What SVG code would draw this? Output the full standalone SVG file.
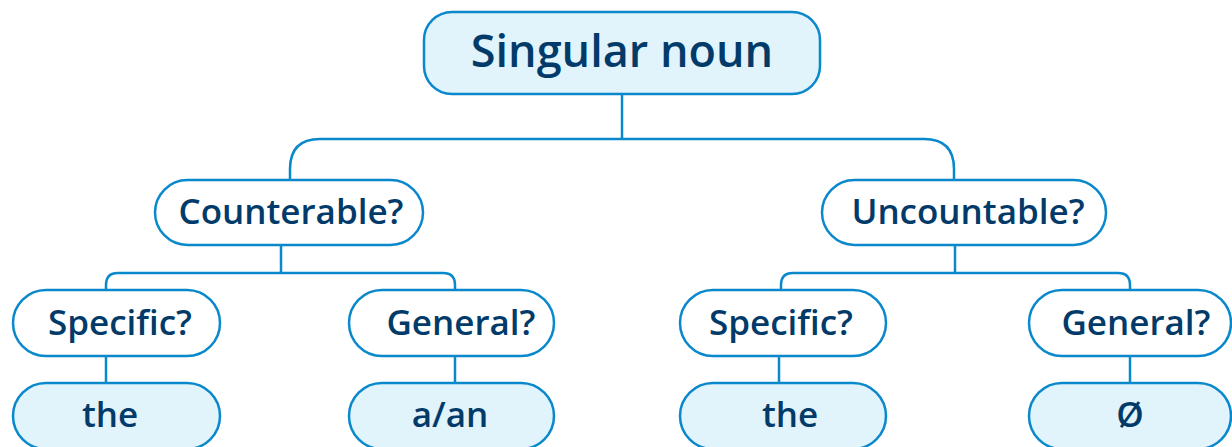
<svg xmlns="http://www.w3.org/2000/svg" width="1232" height="447" viewBox="0 0 1232 447">
<style>
.box{stroke:#0a88cc;stroke-width:2.5}
.q{fill:#ffffff}
.a{fill:#e1f3fb}
.t{font-family:"Open Sans","Noto Sans",sans-serif;font-weight:600;fill:#023b69;text-anchor:middle;font-size:35px}
.c{fill:none;stroke:#0a88cc;stroke-width:2.5}
</style>
<rect width="1232" height="447" fill="#ffffff"/>
<g id="connectors">
<path class="c" d="M622,94 V139"/>
<path class="c" d="M290,180 V169 Q290,139 320,139 H924 Q954,139 954,169 V180"/>
<path class="c" d="M281,245 V273"/>
<path class="c" d="M106,290 V285 Q106,273 118,273 H443 Q455,273 455,285 V290"/>
<path class="c" d="M955,245 V273"/>
<path class="c" d="M781,290 V285 Q781,273 793,273 H1118 Q1130,273 1130,285 V290"/>
<path class="c" d="M106,356 V383"/>
<path class="c" d="M455,356 V383"/>
<path class="c" d="M779,356 V383"/>
<path class="c" d="M1130,356 V383"/>
</g>
<g id="root">
<rect class="box a" x="424" y="12" width="396" height="82" rx="28"/>
<text class="t" x="622" y="67" style="font-size:45px">Singular noun</text>
</g>
<g id="countable">
<rect class="box q" x="155" y="180" width="268" height="65" rx="32.5"/>
<text class="t" x="291" y="224">Counterable?</text>
</g>
<g id="uncountable">
<rect class="box q" x="822" y="180" width="284" height="65" rx="32.5"/>
<text class="t" x="968" y="224">Uncountable?</text>
</g>
<g id="c-specific">
<rect class="box q" x="13" y="290" width="207" height="66" rx="33"/>
<text class="t" x="120" y="335">Specific?</text>
</g>
<g id="c-general">
<rect class="box q" x="349" y="290" width="205" height="66" rx="33"/>
<text class="t" x="461" y="335">General?</text>
</g>
<g id="u-specific">
<rect class="box q" x="680" y="290" width="206" height="66" rx="33"/>
<text class="t" x="781" y="335">Specific?</text>
</g>
<g id="u-general">
<rect class="box q" x="1029" y="290" width="202" height="66" rx="33"/>
<text class="t" x="1136" y="335">General?</text>
</g>
<g id="c-the">
<rect class="box a" x="13" y="383" width="207" height="66" rx="33"/>
<text class="t" x="110" y="427">the</text>
</g>
<g id="c-aan">
<rect class="box a" x="349" y="383" width="205" height="66" rx="33"/>
<text class="t" x="450" y="427">a/an</text>
</g>
<g id="u-the">
<rect class="box a" x="680" y="383" width="206" height="66" rx="33"/>
<text class="t" x="790" y="427">the</text>
</g>
<g id="u-zero">
<rect class="box a" x="1029" y="383" width="202" height="66" rx="33"/>
<text class="t" x="1130" y="427">Ø</text>
</g>
</svg>
